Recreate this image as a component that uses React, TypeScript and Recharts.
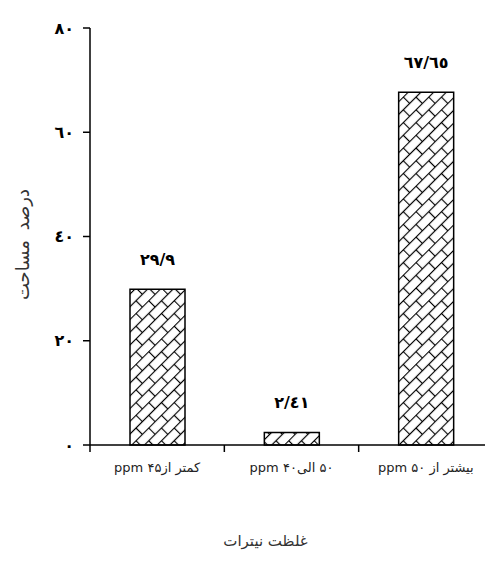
import { BarChart, Bar, XAxis, YAxis, LabelList } from 'recharts';

const categories = ['کمتر از۴۵ ppm', '۵۰ الی۴۰ ppm', 'بیشتر از ۵۰ ppm'];
const areaPercent = [29.9, 2.41, 67.65];
const yTicks = [0, 20, 40, 60, 80];
// boundaries (integers) get a tick mark, centers (halves) get a label
const xTicks = [0, 0.5, 1, 1.5, 2, 2.5, 3];

const yTitle = 'درصد مساحت';
const xTitle = 'غلظت نیترات';

const data = categories.map((name, i) => ({ name, value: areaPercent[i], pos: i + 0.5 }));

const arabicDigits = '٠١٢٣٤٥٦٧٨٩';
const toArabic = (v: number | string) =>
    String(v).replace('.', '/').replace(/[0-9]/g, (d) => arabicDigits[Number(d)]);

const FONT = '"DejaVu Sans", sans-serif';

const XTick = ({ x, y, payload }: any) => {
    const v = payload.value;
    if (Number.isInteger(v)) {
        return <line x1={x} y1={y} x2={x} y2={y + 7} stroke="#000" strokeWidth={1.5} />;
    }
    return (
        <text
            x={x}
            y={y}
            dy={27}
            textAnchor="middle"
            direction="rtl"
            style={{ direction: 'rtl', fontFamily: FONT, fontSize: 13 }}
            fill="#222"
        >
            {categories[Math.floor(v)]}
        </text>
    );
};

const YTitle = ({ viewBox }: any) => {
    const cx = viewBox.x + 14;
    const cy = viewBox.y + viewBox.height / 2 + 8;
    return (
        <text
            x={cx}
            y={cy}
            textAnchor="middle"
            dominantBaseline="central"
            transform={`rotate(-90 ${cx} ${cy})`}
            direction="rtl"
            style={{ direction: 'rtl', fontFamily: FONT, fontSize: 18, wordSpacing: 4 }}
            fill="#333"
        >
            {yTitle}
        </text>
    );
};

const XTitle = ({ viewBox }: any) => (
    <text
        x={viewBox.x + viewBox.width / 2 - 26}
        y={viewBox.y + viewBox.height - 12}
        textAnchor="middle"
        direction="rtl"
        style={{ direction: 'rtl', fontFamily: FONT, fontSize: 15 }}
        fill="#333"
    >
        {xTitle}
    </text>
);

const App = () => {
    return (
        <div style={{ width: 485, height: 550, fontFamily: FONT }}>
            <svg width={0} height={0} style={{ position: 'absolute' }}>
                <defs>
                    <pattern
                        id="brick"
                        patternUnits="userSpaceOnUse"
                        width={18}
                        height={18}
                        patternTransform="rotate(-45)"
                    >
                        <rect width={18} height={18} fill="#fff" />
                        <line x1={0} y1={0.5} x2={18} y2={0.5} stroke="#000" strokeWidth={1.2} />
                        <line x1={0} y1={9.5} x2={18} y2={9.5} stroke="#000" strokeWidth={1.2} />
                        <line x1={0.5} y1={0} x2={0.5} y2={9.5} stroke="#000" strokeWidth={1.2} />
                        <line x1={9.5} y1={9.5} x2={9.5} y2={18} stroke="#000" strokeWidth={1.2} />
                    </pattern>
                </defs>
            </svg>
            <BarChart
                width={485}
                height={550}
                data={data}
                margin={{ top: 20, right: 0, bottom: 0, left: 0 }}
            >
                <XAxis
                    type="number"
                    dataKey="pos"
                    domain={[0, 3]}
                    ticks={xTicks}
                    interval={0}
                    height={113}
                    axisLine={{ stroke: '#000', strokeWidth: 1.5 }}
                    tickLine={false}
                    tickSize={0}
                    tickMargin={0}
                    tick={<XTick />}
                    label={<XTitle />}
                />
                <YAxis
                    width={82}
                    domain={[0, 80]}
                    ticks={yTicks}
                    interval={0}
                    axisLine={{ stroke: '#000', strokeWidth: 1.5 }}
                    tickLine={{ stroke: '#000', strokeWidth: 1.5 }}
                    tickSize={7}
                    tickMargin={9}
                    tickFormatter={(v) => toArabic(v)}
                    tick={{ fill: '#000', fontSize: 16, fontWeight: 'bold', fontFamily: FONT }}
                    label={<YTitle />}
                />
                <Bar
                    dataKey="value"
                    barSize={55}
                    fill="url(#brick)"
                    stroke="#000"
                    strokeWidth={1.5}
                    isAnimationActive={false}
                >
                    <LabelList
                        dataKey="value"
                        position="top"
                        offset={24}
                        formatter={(v: any) => toArabic(v)}
                        style={{ fill: '#000', fontSize: 16, fontWeight: 'bold', fontFamily: FONT }}
                    />
                </Bar>
            </BarChart>
        </div>
    );
};

export default App;
